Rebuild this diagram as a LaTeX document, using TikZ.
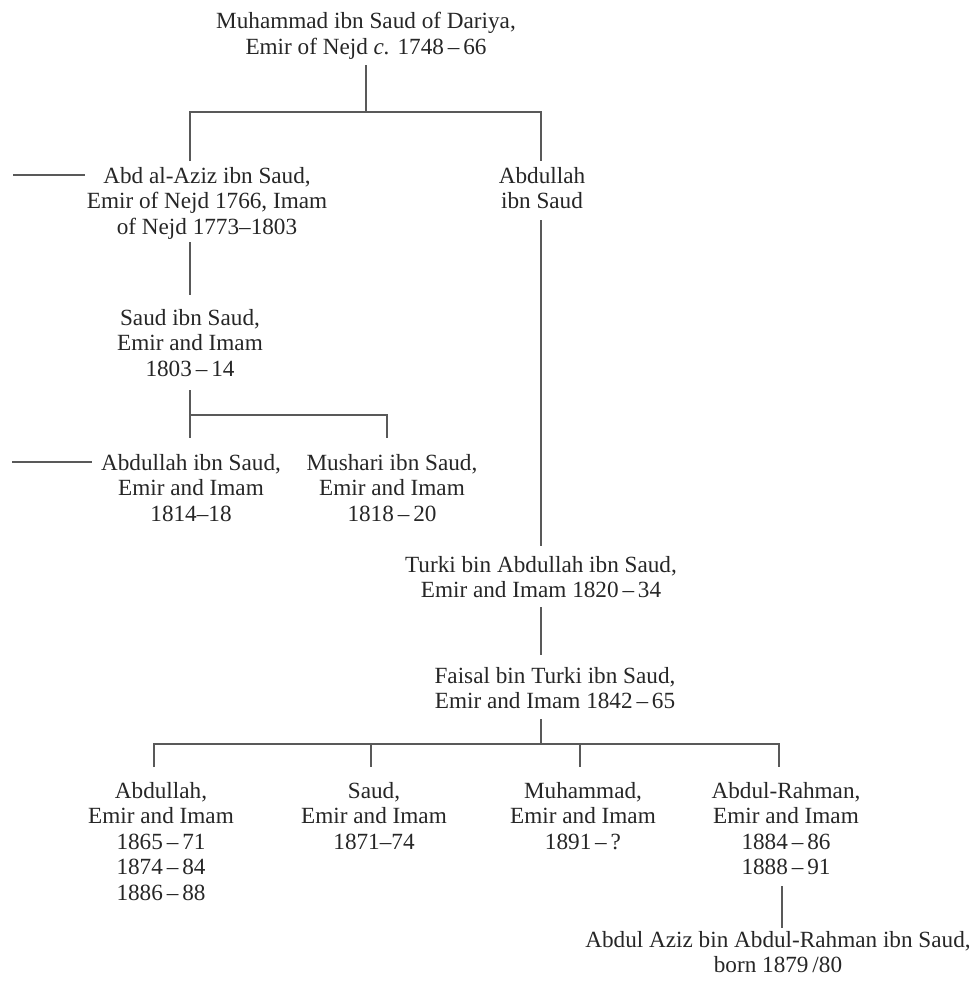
\documentclass[tikz,border=0pt]{standalone}
\usepackage{fontspec}
\setmainfont{Liberation Serif}
\begin{document}
\begin{tikzpicture}[x=1pt,y=-1pt,
  person/.style={anchor=north,inner sep=0pt,align=center,
    font=\fontsize{23.2}{25.5}\selectfont,text=black!85},
  link/.style={draw=black!65,line width=1.3pt}]
\useasboundingbox (0,0) rectangle (976,985);
% people
\node[person] (top) at (366,12.1) {Muhammad ibn Saud of Dariya,\\Emir of Nejd \textit{c.} 1748\,–\,66};
\node[person] (aziz) at (207,167.1) {Abd al-Aziz ibn Saud,\\Emir of Nejd 1766, Imam\\of Nejd 1773–1803};
\node[person] (abd1) at (542,167.1) {Abdullah\\ibn Saud};
\node[person] (saud) at (190,309.1) {Saud ibn Saud,\\Emir and Imam\\1803\,–\,14};
\node[person] (abd2) at (191,454.1) {Abdullah ibn Saud,\\Emir and Imam\\1814–18};
\node[person] (mush) at (392,454.1) {Mushari ibn Saud,\\Emir and Imam\\1818\,–\,20};
\node[person] (turki) at (541,556.1) {Turki bin Abdullah ibn Saud,\\Emir and Imam 1820\,–\,34};
\node[person] (faisal) at (555,667.1) {Faisal bin Turki ibn Saud,\\Emir and Imam 1842\,–\,65};
\node[person] (c1) at (161,782.1) {Abdullah,\\Emir and Imam\\1865\,–\,71\\1874\,–\,84\\1886\,–\,88};
\node[person] (c2) at (374,782.1) {Saud,\\Emir and Imam\\1871–74};
\node[person] (c3) at (583,782.1) {Muhammad,\\Emir and Imam\\1891\,–\,?};
\node[person] (c4) at (786,782.1) {Abdul-Rahman,\\Emir and Imam\\1884\,–\,86\\1888\,–\,91};
\node[person] (aa) at (778,931.1) {Abdul Aziz bin Abdul-Rahman ibn Saud,\\born 1879\,/80};
% junction coordinates
\coordinate (t0) at (366,65);
\coordinate (t1) at (366,112);
\coordinate (tl) at (190,112);
\coordinate (tr) at (541,112);
\coordinate (tle) at (190,161);
\coordinate (tre) at (541,161);
\coordinate (azl0) at (13,175);
\coordinate (azl1) at (85,175);
\coordinate (az0) at (190,242);
\coordinate (az1) at (190,295);
\coordinate (ab0) at (541,220);
\coordinate (ab1) at (541,546);
\coordinate (s0) at (190,390);
\coordinate (s1) at (190,415);
\coordinate (s2) at (387,415);
\coordinate (sl) at (190,438);
\coordinate (sr) at (387,438);
\coordinate (al0) at (12,462);
\coordinate (al1) at (92,462);
\coordinate (tk0) at (541,607);
\coordinate (tk1) at (541,655);
\coordinate (f0) at (541,719);
\coordinate (f1) at (541,744);
\coordinate (hl) at (154,744);
\coordinate (hr) at (779,744);
\coordinate (k1) at (154,767);
\coordinate (k2) at (371,767);
\coordinate (k3) at (580,767);
\coordinate (k4) at (779,767);
\coordinate (r0) at (782,886);
\coordinate (r1) at (782,928);
% connectors
\draw[link] (t0) -- (t1);
\draw[link] (tle) -- (tl) -- (tr) -- (tre);
\draw[link] (azl0) -- (azl1);
\draw[link] (az0) -- (az1);
\draw[link] (ab0) -- (ab1);
\draw[link] (s0) -- (sl);
\draw[link] (s1) -- (s2) -- (sr);
\draw[link] (al0) -- (al1);
\draw[link] (tk0) -- (tk1);
\draw[link] (f0) -- (f1);
\draw[link] (k1) -- (hl) -- (hr) -- (k4);
\draw[link] (k2 |- hl) -- (k2);
\draw[link] (k3 |- hl) -- (k3);
\draw[link] (r0) -- (r1);
\end{tikzpicture}
\end{document}
